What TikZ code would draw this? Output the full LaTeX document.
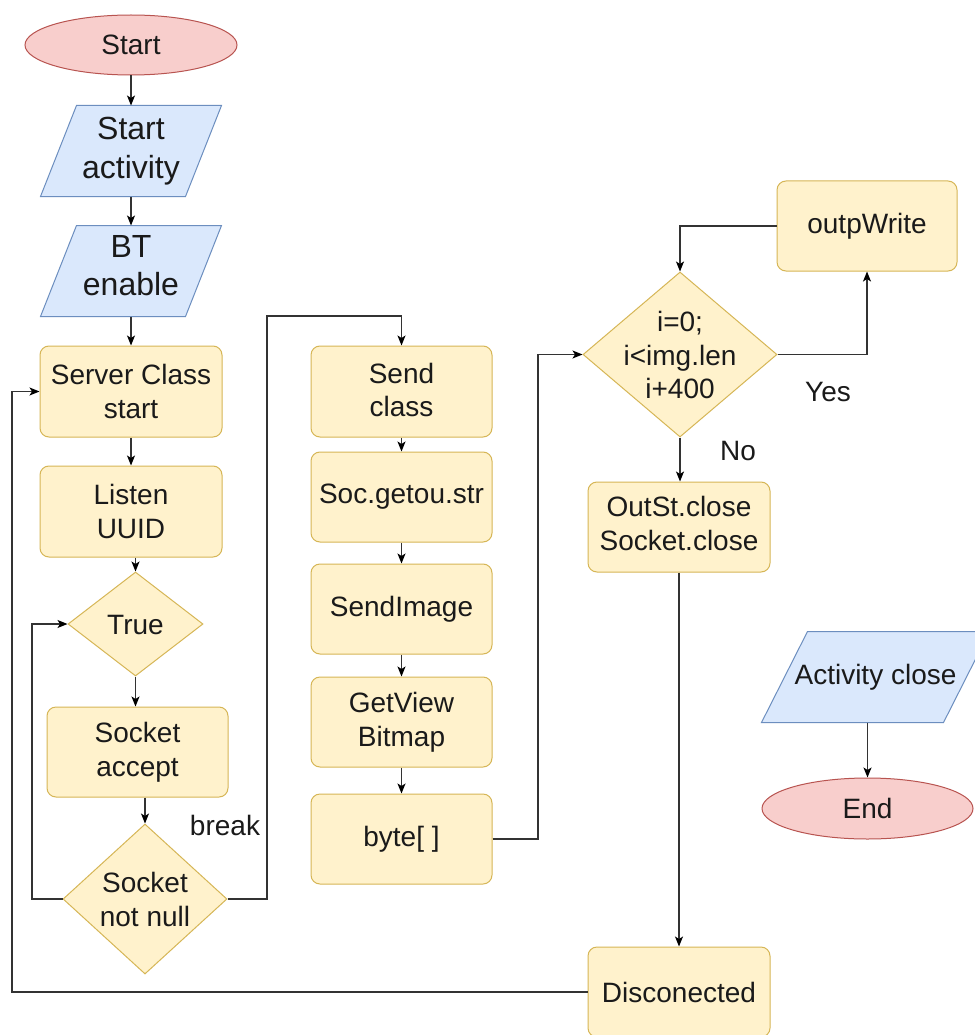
\documentclass[tikz,border=0pt]{standalone}
\usepackage{fontspec}
\setmainfont{Liberation Sans}
\usetikzlibrary{shapes.geometric,arrows.meta,backgrounds}
\definecolor{yfill}{HTML}{FFF2CC}
\definecolor{ydraw}{HTML}{D6B656}
\definecolor{bfill}{HTML}{DAE8FC}
\definecolor{bdraw}{HTML}{6C8EBF}
\definecolor{rfill}{HTML}{F8CECC}
\definecolor{rdraw}{HTML}{B85450}
\definecolor{lcol}{HTML}{333333}
\definecolor{tcol}{HTML}{1A1A1A}
\newcommand{\dtxt}[1]{\makebox[0pt]{\raisebox{-10pt}[0pt][0pt]{\begin{tabular}{@{}c@{}}#1\end{tabular}}}}
\newcommand{\deep}[1]{\rule[-#1]{0pt}{#1}}
% parallelogram outline round a named node: #1 node name, #2 half of the slant
\newcommand{\paraoutline}[2]{%
  \filldraw[fill=bfill, draw=bdraw, line width=1pt]
    ([xshift=#2]#1.north west) -- ([xshift=#2]#1.north east) --
    ([xshift=-#2]#1.south east) -- ([xshift=-#2]#1.south west) -- cycle;}
\tikzset{
  base/.style={font=\fontsize{28}{33.6}\selectfont, text=tcol, inner sep=0pt, align=center, line width=1pt},
  bigtext/.style={font=\fontsize{32}{38.4}\selectfont},
  box/.style={base, rectangle, rounded corners=9pt, draw=ydraw, fill=yfill, minimum width=181pt, minimum height=90pt},
  dia/.style={base, diamond, draw=ydraw, fill=yfill},
  io/.style={base, rectangle, minimum height=90pt},
  term/.style={base, ellipse, draw=rdraw, fill=rfill},
  arr/.style={draw=lcol, line width=1.3pt, -{Stealth[length=10pt,width=8pt,inset=2.5pt,color=black]}},
  lbl/.style={font=\fontsize{28}{33.6}\selectfont, text=tcol, inner sep=0pt}
}
\begin{document}
\begin{tikzpicture}[x=1pt,y=-1pt]
\useasboundingbox (0,0) rectangle (974,1035);
\clip (0,0) rectangle (974,1035);

% left column
\node[term, minimum width=212pt, minimum height=60pt] (start) at (131,45) {Start};
\node[io, bigtext, minimum width=144pt] (sact) at (131,151) {Start\\activity};
\node[io, bigtext, minimum width=144pt] (bt) at (131,271) {BT\\enable\deep{11pt}};
\node[box, minimum width=182pt, minimum height=91pt] (server) at (131,391.5) {Server Class\\start};
\node[box, minimum width=182pt, minimum height=91pt] (listen) at (131,511.5) {Listen\\UUID};
\node[dia, minimum width=135pt, minimum height=104pt] (true) at (135.5,624) {\dtxt{True}};
\node[box] (accept) at (137.5,752) {Socket\\accept};
\node[dia, minimum width=164pt, minimum height=150pt] (notnull) at (145,899) {\dtxt{Socket\\not null}};

% middle column
\node[box, minimum height=91pt] (send) at (401.5,391.5) {Send\\class\deep{3pt}};
\node[box] (soc) at (401.5,497) {Soc.getou.str};
\node[box] (simg) at (401.5,609) {SendImage};
\node[box] (getview) at (401.5,722) {GetView\\Bitmap};
\node[box] (byte) at (401.5,839) {byte[ ]};

% right column
\node[dia, minimum width=194pt, minimum height=165pt] (loop) at (680,354.5) {\dtxt{i=0;\\i<img.len\\i+400}};
\node[box, minimum width=180pt] (outp) at (867,226) {outpWrite};
\node[box, minimum width=182pt] (close) at (679,527) {OutSt.close\\Socket.close\deep{7pt}};
\node[box, minimum width=182pt] (disc) at (679,992) {Disconected};
\node[io, minimum width=181pt] (act) at (875.5,677) {Activity close};
\node[term, minimum width=211pt, minimum height=61pt] (endn) at (867.5,808.5) {End};

% white page and parallelogram outlines behind the nodes
\begin{pgfonlayer}{background}
\fill[white] (0,0) rectangle (974,1035);
\paraoutline{sact}{18pt}
\paraoutline{bt}{18pt}
\paraoutline{act}{23pt}
\end{pgfonlayer}

% helper coordinates
\coordinate (lx) at (32,0);
\coordinate (bk) at (267,316);
\coordinate (bj) at (538,0);
\coordinate (bl) at (12,0);

% connectors
\draw[arr] (start) -- (sact);
\draw[arr] (sact) -- (bt);
\draw[arr] (bt) -- (server);
\draw[arr] (server) -- (listen);
\draw[arr] (true.north |- listen.south) -- (true.north);
\draw[arr] (true.south) -- (true.south |- accept.north);
\draw[arr] (notnull.north |- accept.south) -- (notnull.north);
\draw[arr] (notnull.west) -- (notnull.west -| lx) |- (true.west);
\draw[arr] (notnull.east) -| (bk) -| (send.north);
\draw[arr] (send) -- (soc);
\draw[arr] (soc) -- (simg);
\draw[arr] (simg) -- (getview);
\draw[arr] (getview) -- (byte);
\draw[arr] (byte.east) -| (bj |- loop.west) -- (loop.west);
\draw[arr] (loop.east) -| (outp.south);
\draw[arr] (outp.west) -| (loop.north);
\draw[arr] (loop.south) -- (loop.south |- close.north);
\draw[arr] (close) -- (disc);
\draw[arr] (disc.west) -| (bl |- server.west) -- (server.west);
\draw[arr] (endn.north |- act.south) -- (endn.north);

% labels
\node[lbl] (lbreak) at (225,825) {break};
\node[lbl] (lyes) at (828,392) {Yes};
\node[lbl] (lno) at (738,451) {No};
\end{tikzpicture}
\end{document}
